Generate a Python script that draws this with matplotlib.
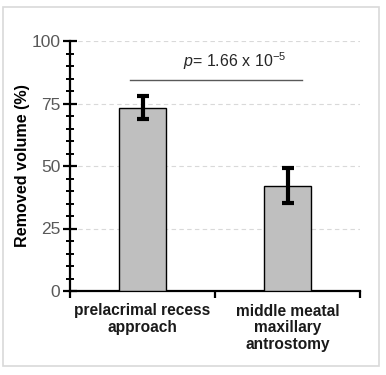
import matplotlib
matplotlib.use("Agg")
import matplotlib.pyplot as plt
from matplotlib.patches import Rectangle
from matplotlib.ticker import MultipleLocator

plt.rcParams['font.family'] = ['Liberation Sans', 'DejaVu Sans']
plt.rcParams['mathtext.fontset'] = 'custom'
plt.rcParams['mathtext.rm'] = 'Liberation Sans'
plt.rcParams['mathtext.it'] = 'Liberation Sans:italic'

# data
categories = ["prelacrimal recess\napproach", "middle meatal\nmaxillary\nantrostomy"]
values = [73.3, 42.1]
errors = [4.6, 7.0]
p_label = r"$\it{p}$= 1.66 x 10$^{\mathregular{-5}}$"
sig_y = 84.4

fig = plt.figure(figsize=(3.86, 3.75), dpi=100)
ax = fig.add_axes([70/386, 1 - 291/375, 290/386, 250/375])

# frame round the figure
fig.patches.append(Rectangle((3/386, 1 - 366/375), 376/386, 359/375,
                             transform=fig.transFigure, fill=False,
                             edgecolor='#d9d9d9', lw=1.2))

x = list(range(len(categories)))
ax.bar(x, values, width=0.32, color='#bfbfbf', edgecolor='black', lw=1.0, zorder=3)
ax.errorbar(x, values, yerr=errors, fmt='none', ecolor='black',
            elinewidth=3, capsize=4, capthick=3, zorder=4)

ax.set_xlim(-0.5, 1.5)
ax.set_ylim(0, 100)

# grid
for gy in [25, 50, 75, 100]:
    ax.axhline(gy, color='#d9d9d9', lw=0.8, ls=(0, (4, 3)), zorder=1)

# significance
ax.plot([-0.086, 1.10], [sig_y, sig_y], color='#595959', lw=1.0, clip_on=False)
ax.text(0.638, 91.8, p_label, ha='center', va='center', fontsize=11.5, color='#262626')

ax.spines['top'].set_visible(False)
ax.spines['right'].set_visible(False)
ax.spines['left'].set_linewidth(1.6)
ax.spines['bottom'].set_linewidth(1.6)

ax.yaxis.set_major_locator(MultipleLocator(25))
ax.yaxis.set_minor_locator(MultipleLocator(5))
ax.tick_params(axis='y', which='major', direction='inout', length=10, width=1.6,
               labelsize=12.5, labelcolor='#595959', pad=2)
ax.tick_params(axis='y', which='minor', direction='inout', length=6, width=1.4)

ax.set_xticks(x)
ax.set_xticklabels(categories, fontweight='bold', fontsize=11.2, color='#1a1a1a',
                   linespacing=1.15)
ax.set_xticks([-0.5, 0.5, 1.5], minor=True)
ax.tick_params(axis='x', which='major', length=0, pad=9)
ax.tick_params(axis='x', which='minor', direction='out', length=5, width=1.6)

ax.set_ylabel("Removed volume (%)", fontweight='bold', fontsize=11.6, labelpad=1)

fig.savefig("out.png", dpi=100)
